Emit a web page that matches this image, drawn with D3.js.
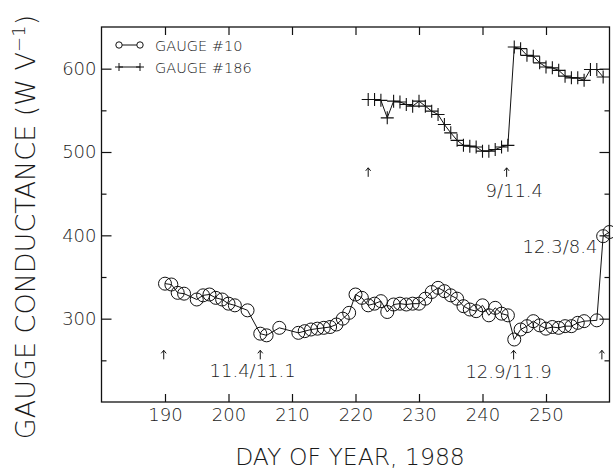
<!DOCTYPE html>
<html>
<head>
<meta charset="utf-8">
<script src="https://cdn.jsdelivr.net/npm/d3@7"></script>
<style>
  html, body { margin: 0; padding: 0; background: #fff; }
  svg { display: block; }
  text { font-family: "DejaVu Sans", "Liberation Sans", sans-serif; font-weight: 200; fill: #1a1a1a; }
</style>
</head>
<body>
<svg id="chart" width="613" height="472"></svg>
<script>
// ---------------- data ----------------
const gauge10Days = [190,191,192,193,195,196,197,198,199,200,201,203,205,206,208,211,212,213,214,215,216,217,218,219,220,221,222,223,224,225,226,227,228,229,230,231,232,233,234,235,236,237,238,239,240,241,242,243,244,245,246,247,248,249,250,251,252,253,254,255,256,258,259,260];
const gauge10Vals = [342,341,331,330,323,328,329,325,323,318,316,310,282,280,289,283,285,287,288,289,290,293,300,307,329,325,316,318,321,308,317,318,317,318,318,324,332,337,333,328,324,315,311,309,316,304,313,306,304,275,287,291,297,292,288,290,289,291,291,295,297,298,399,404];

const gauge186Days = [222,223,224,225,226,227,228,229,230,231,232,233,234,235,236,237,238,239,240,241,242,243,244,245,246,247,248,249,250,251,252,253,254,255,256,257,258,259];
const gauge186Vals = [563,563,562,541,561,560,557,555,561,555,549,545,533,523,514,508,507,506,501,501,503,506,508,626,624,616,615,607,602,601,598,591,589,589,586,599,599,590];

const seriesNames = ["GAUGE #10", "GAUGE #186"];
const xTicks = [190,200,210,220,230,240,250];
const yTicks = [300,400,500,600];
const yMinorTicks = [250,350,450,550];
const xDomain = [180,260];
const yDomain = [200,650];
const xTitle = "DAY OF YEAR, 1988";
const yTitleMain = "GAUGE CONDUCTANCE (W V";
const yTitleSup = "\u22121";

// event markers (arrows) : day / value of arrow tip
const arrowDays = [189.8, 205, 222, 243.8, 244.9, 258.8];
const arrowVals = [262, 262, 481, 481, 262, 262];
// annotation texts : centre day / baseline value
const noteTexts = ["11.4/11.1", "12.9/11.9", "9/11.4", "12.3/8.4"];
const noteDays = [203.8, 244.1, 245.0, 252.2];
const noteVals = [230, 229, 446, 379];

// ---------------- layout ----------------
const svg = d3.select("#chart");
const x = d3.scaleLinear().domain(xDomain).range([101.5, 609.5]);
const y = d3.scaleLinear().domain(yDomain).range([402, 27]);
const ink = "#111";

// frame
svg.append("rect")
  .attr("x", x(xDomain[0])).attr("y", y(yDomain[1]))
  .attr("width", x(xDomain[1]) - x(xDomain[0]))
  .attr("height", y(yDomain[0]) - y(yDomain[1]))
  .attr("fill", "none").attr("stroke", ink).attr("stroke-width", 1.3);

// axes (ticks pointing inward)
const gx = svg.append("g").attr("transform", `translate(0,${y(yDomain[0])})`)
  .call(d3.axisBottom(x).tickValues(xTicks).tickSizeInner(-8).tickSizeOuter(0).tickPadding(16).tickFormat(d3.format("d")));
const gxTop = svg.append("g").attr("transform", `translate(0,${y(yDomain[1])})`)
  .call(d3.axisTop(x).tickValues(xTicks).tickSizeInner(-8).tickSizeOuter(0).tickFormat(""));
const gy = svg.append("g").attr("transform", `translate(${x(xDomain[0])},0)`)
  .call(d3.axisLeft(y).tickValues(yTicks).tickSizeInner(-10).tickSizeOuter(0).tickPadding(16).tickFormat(d3.format("d")));
const gyMinor = svg.append("g").attr("transform", `translate(${x(xDomain[0])},0)`)
  .call(d3.axisLeft(y).tickValues(yMinorTicks).tickSizeInner(-5).tickSizeOuter(0).tickFormat(""));
const gyR = svg.append("g").attr("transform", `translate(${x(xDomain[1])},0)`)
  .call(d3.axisRight(y).tickValues(yTicks).tickSizeInner(-10).tickSizeOuter(0).tickFormat(""));
const gyRMinor = svg.append("g").attr("transform", `translate(${x(xDomain[1])},0)`)
  .call(d3.axisRight(y).tickValues(yMinorTicks).tickSizeInner(-5).tickSizeOuter(0).tickFormat(""));

[gx, gxTop, gy, gyMinor, gyR, gyRMinor].forEach(g => {
  g.select(".domain").remove();
  g.selectAll(".tick line").attr("stroke", ink).attr("stroke-width", 1.2);
  g.selectAll(".tick text").attr("font-size", 18).attr("fill", "#1a1a1a")
    .style("font-family", '"DejaVu Sans", "Liberation Sans", sans-serif').style("font-weight", 200);
});
gx.selectAll(".tick text").attr("dy", "0.71em").attr("y", 6);
gy.selectAll(".tick text").attr("x", -5);

// titles
svg.append("text")
  .attr("x", 350).attr("y", 465)
  .attr("text-anchor", "middle").attr("font-size", 23.5)
  .text(xTitle);

const yt = svg.append("text")
  .attr("transform", "translate(35,227) rotate(-90)")
  .attr("text-anchor", "middle").attr("font-size", 27);
yt.append("tspan").text(yTitleMain);
yt.append("tspan").attr("dy", -10).attr("font-size", 18).text(yTitleSup);
yt.append("tspan").attr("dy", 10).text(")");

// series lines
const line = d3.line().x(d => x(d[0])).y(d => y(d[1]));
const g10 = gauge10Days.map((d, i) => [d, gauge10Vals[i]]);
const g186 = gauge186Days.map((d, i) => [d, gauge186Vals[i]]);

const plot = svg.append("g");
plot.append("path").datum(g10).attr("d", line)
  .attr("fill", "none").attr("stroke", ink).attr("stroke-width", 1);
plot.append("path").datum(g186).attr("d", line)
  .attr("fill", "none").attr("stroke", ink).attr("stroke-width", 1);

// circle markers
plot.selectAll("circle.g10").data(g10).join("circle")
  .attr("class", "g10")
  .attr("cx", d => x(d[0])).attr("cy", d => y(d[1])).attr("r", 6.5)
  .attr("fill", "none").attr("stroke", ink).attr("stroke-width", 1);

// cross markers
const crossSize = 6.5;
plot.selectAll("path.g186").data(g186).join("path")
  .attr("class", "g186")
  .attr("d", d => {
    const cx = x(d[0]), cy = y(d[1]);
    return `M${cx - crossSize},${cy}H${cx + crossSize}M${cx},${cy - crossSize}V${cy + crossSize}`;
  })
  .attr("fill", "none").attr("stroke", ink).attr("stroke-width", 1.1);

// arrows
const arrows = arrowDays.map((d, i) => [d, arrowVals[i]]);
svg.selectAll("path.arrow").data(arrows).join("path")
  .attr("class", "arrow")
  .attr("d", d => {
    const ax = x(d[0]), ay = y(d[1]);
    return `M${ax},${ay + 9}V${ay}M${ax - 2.5},${ay + 3}L${ax},${ay}L${ax + 2.5},${ay + 3}`;
  })
  .attr("fill", "none").attr("stroke", ink).attr("stroke-width", 1);

// annotation texts
svg.selectAll("text.note").data(noteTexts).join("text")
  .attr("class", "note")
  .attr("x", (d, i) => x(noteDays[i])).attr("y", (d, i) => y(noteVals[i]))
  .attr("text-anchor", "middle").attr("font-size", 18)
  .text(d => d);

// legend
const legX1 = 119, legX2 = 140, legTextX = 155;
const legY = [45, 67];
const leg = svg.append("g");
seriesNames.forEach((name, i) => {
  leg.append("line").attr("x1", legX1).attr("x2", legX2).attr("y1", legY[i]).attr("y2", legY[i])
    .attr("stroke", ink).attr("stroke-width", 1);
  [legX1, legX2].forEach(px => {
    if (i === 0) {
      leg.append("circle").attr("cx", px).attr("cy", legY[i]).attr("r", 3.2)
        .attr("fill", "#fff").attr("stroke", ink).attr("stroke-width", 1);
    } else {
      leg.append("path").attr("d", `M${px - 4},${legY[i]}H${px + 4}M${px},${legY[i] - 4}V${legY[i] + 4}`)
        .attr("stroke", ink).attr("stroke-width", 1);
    }
  });
  leg.append("text").attr("x", legTextX).attr("y", legY[i] + 5.5)
    .attr("font-size", 14.5).text(name);
});
</script>
</body>
</html>
